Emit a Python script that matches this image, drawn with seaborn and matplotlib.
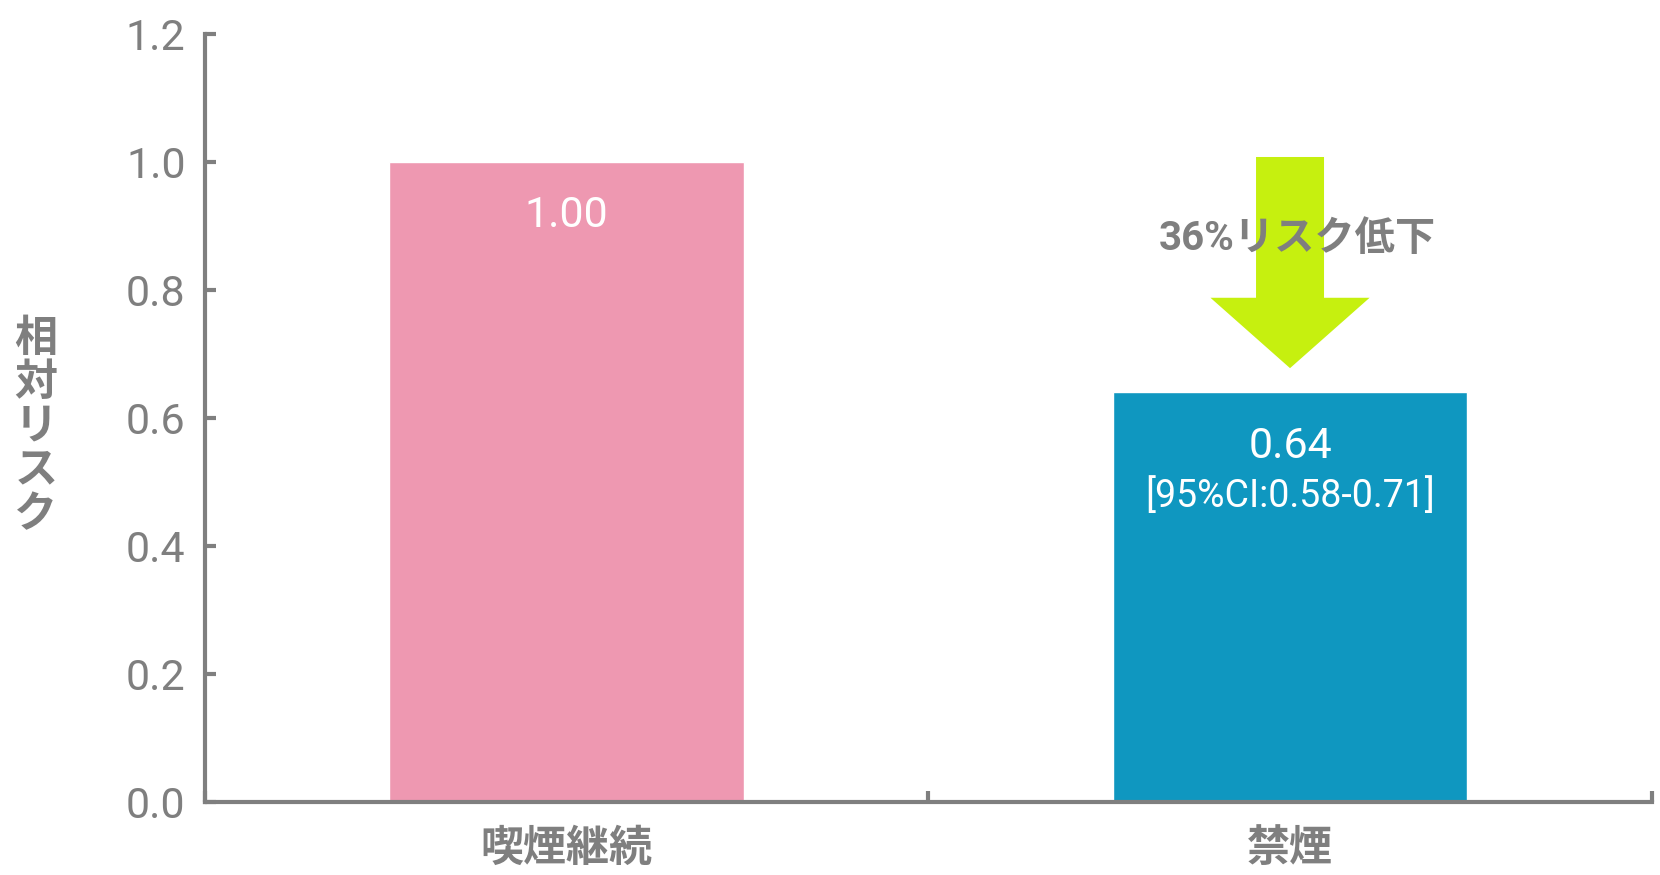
import pandas as pd
import matplotlib.pyplot as plt
import seaborn as sns
from matplotlib.patches import FancyArrow

# --- データ ---
categories = ['喫煙継続', '禁煙']
relative_risk = [1.00, 0.64]
value_labels = ['1.00', '0.64']
ci_labels = ['', '[95%CI:0.58-0.71]']
bar_colors = ['#ee98b1', '#0f97c0']
y_ticks = [0.0, 0.2, 0.4, 0.6, 0.8, 1.0, 1.2]
reduction_text = '36%リスク低下'

GRAY = '#7f7f7f'
FONTS = ['Roboto', 'Noto Sans CJK JP', 'DejaVu Sans']
CJK = ['Noto Sans CJK JP', 'DejaVu Sans']

sns.set_theme(style='white')
plt.rcParams['font.family'] = FONTS

df = pd.DataFrame({'group': categories, 'rr': relative_risk})

fig = plt.figure(figsize=(16.6, 8.75), dpi=100)
ax = fig.add_axes([0.1235, 0.0834, 0.8715, 0.8776])

sns.barplot(data=df, x='group', y='rr', hue='group', palette=bar_colors,
            width=0.49, saturation=1, legend=False, ax=ax)

ax.set_xlim(-0.5, 1.5)
ax.set_ylim(0, 1.2)

# 軸
for side in ['top', 'right']:
    ax.spines[side].set_visible(False)
for side in ['left', 'bottom']:
    ax.spines[side].set_color(GRAY)
    ax.spines[side].set_linewidth(3)

ax.set_yticks(y_ticks)
ax.set_yticklabels([f'{t:.1f}' for t in y_ticks])
ax.tick_params(axis='y', left=True, direction='in', length=8, width=3, color=GRAY,
               labelcolor=GRAY, labelsize=31, pad=14)

ax.set_xticks([-0.5, 0.5, 1.5])
ax.set_xticklabels([])
ax.set_xticks([0, 1], minor=True)
ax.set_xticklabels(categories, minor=True, family=CJK, fontweight='bold')
ax.tick_params(axis='x', which='major', bottom=True, direction='in', length=8,
               width=3, color=GRAY)
ax.tick_params(axis='x', which='minor', bottom=True, length=0, labelcolor=GRAY,
               labelsize=31, pad=17)

ax.set_xlabel('')
ax.set_ylabel('相\n対\nリ\nス\nク', rotation=0, va='center', ha='center',
              color=GRAY, fontsize=31, fontweight='bold', family=CJK, linespacing=1.0)
ax.yaxis.set_label_coords(-0.117, 0.49)

# バー内の数値
for i, v in enumerate(relative_risk):
    ax.text(i, v - 0.084, value_labels[i], ha='center', va='center',
            color='white', fontsize=31)
    if ci_labels[i]:
        ax.text(i, v - 0.162, ci_labels[i], ha='center', va='center',
                color='white', fontsize=27)

# 低下を示す矢印
arrow = FancyArrow(1.0, 1.008, 0, -(1.008 - 0.678), width=0.094,
                   head_width=0.22, head_length=0.11, length_includes_head=True,
                   color='#c6f00f', linewidth=0, zorder=3)
ax.add_patch(arrow)
ax.text(1.01, 0.88, reduction_text, ha='center', va='center', color=GRAY,
        fontsize=29, fontweight='bold', zorder=4)

fig.savefig('out.png', dpi=100)
plt.close(fig)
